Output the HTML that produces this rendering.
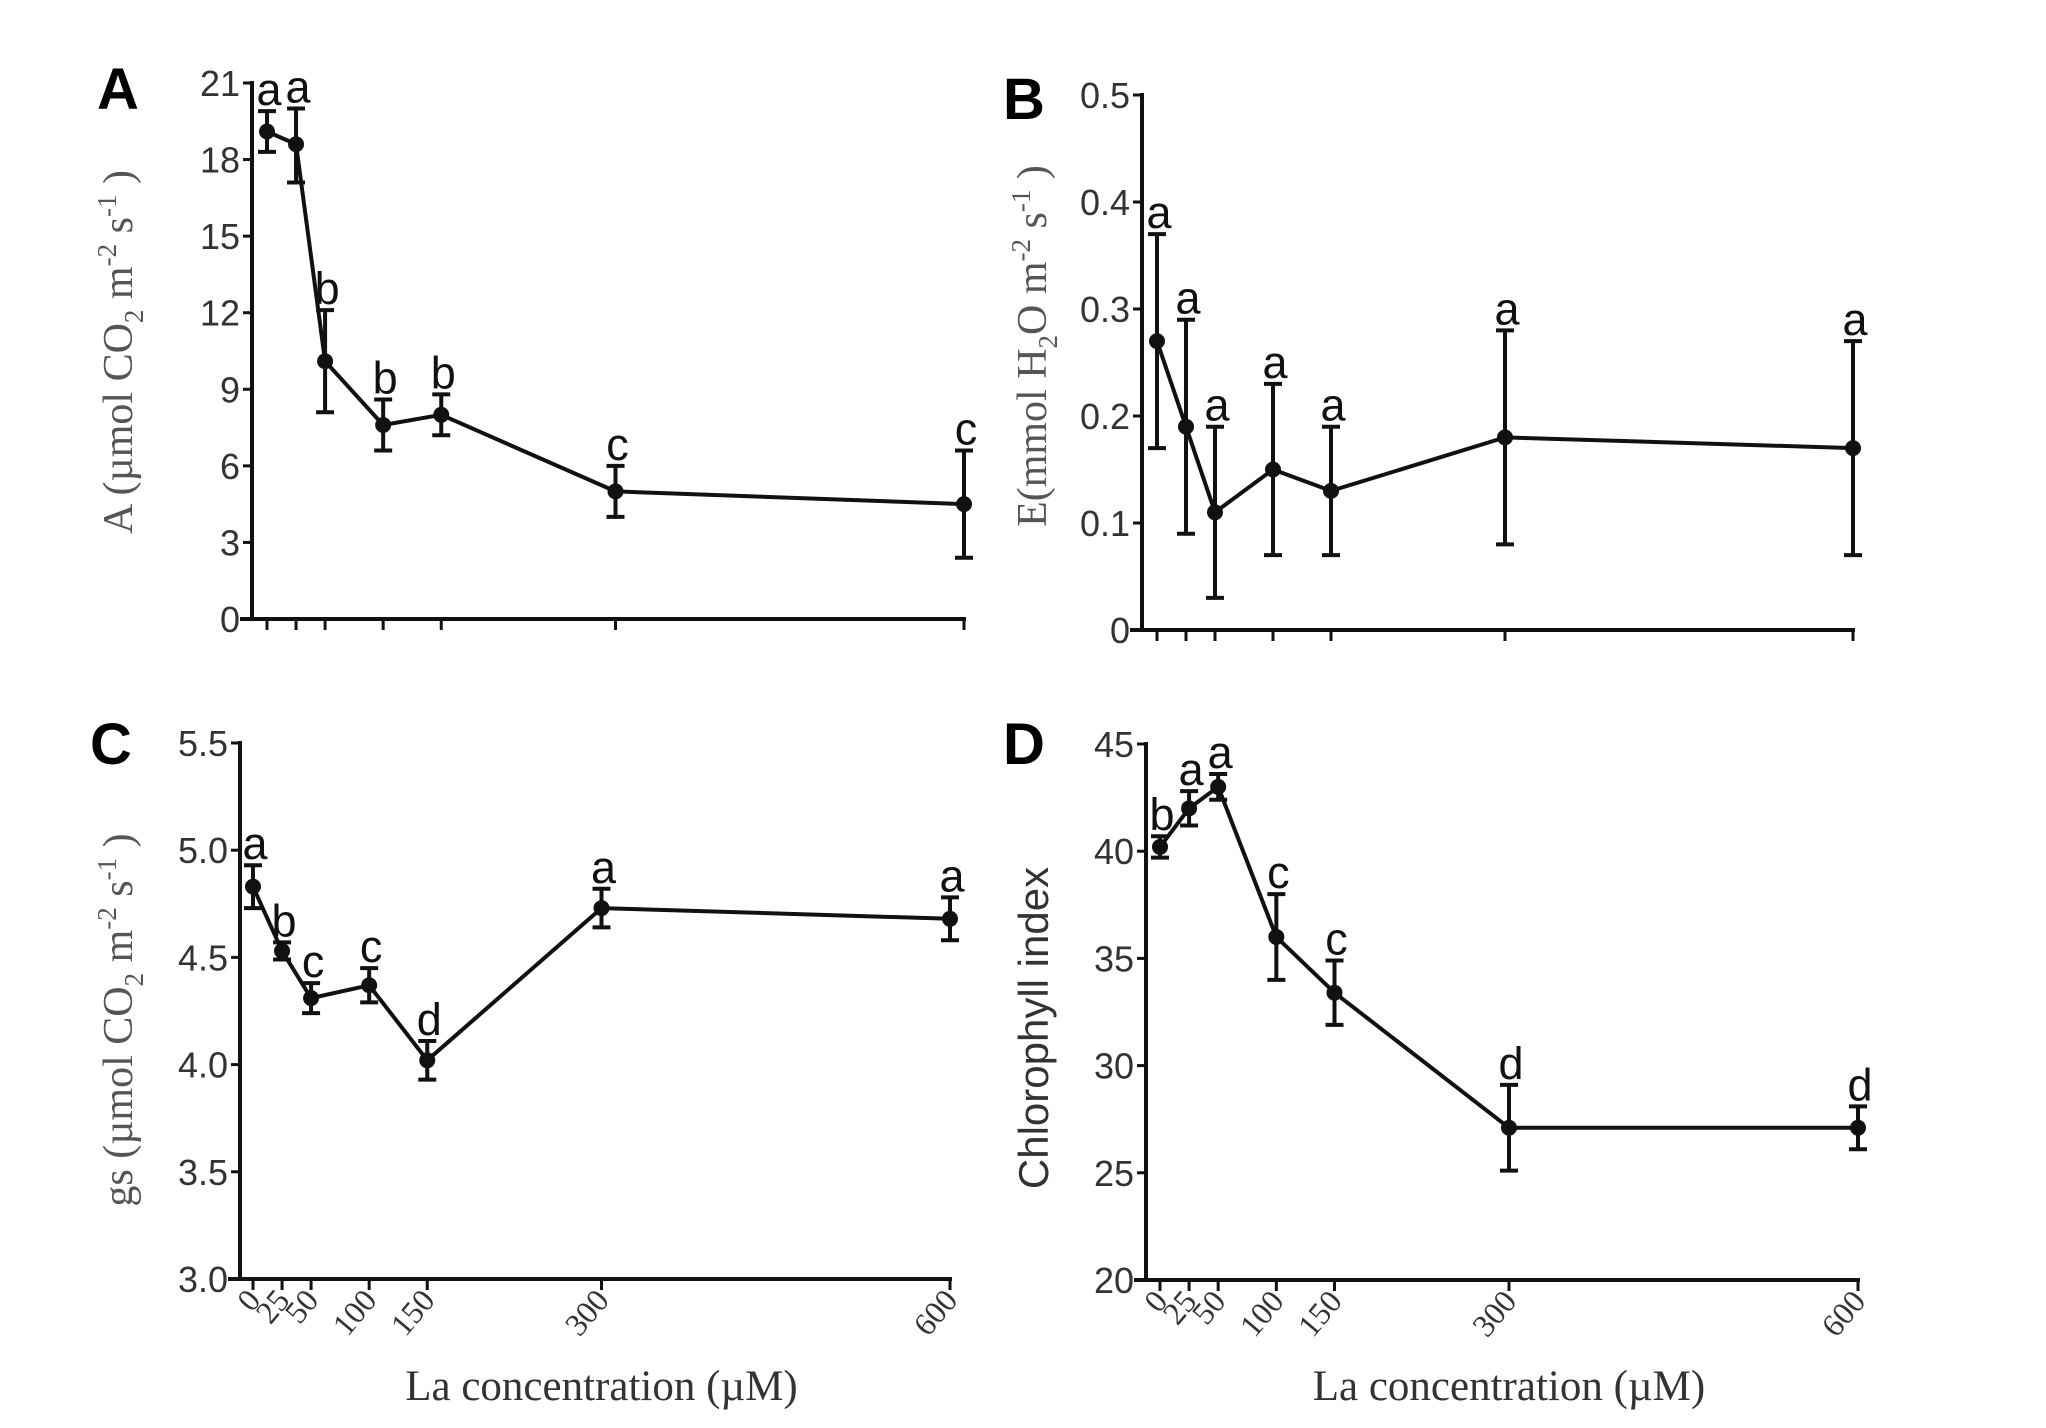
<!DOCTYPE html>
<html><head><meta charset="utf-8"><style>
html,body{margin:0;padding:0;background:#fff}
svg{display:block}
.tick{font-family:"Liberation Sans",sans-serif;font-size:36px;fill:#333}
.xtick{font-family:"Liberation Serif",serif;font-size:32px;fill:#333}
.ytitle{font-family:"Liberation Serif",serif;font-size:42px;fill:#555}
.ctitle{font-family:"Liberation Sans",sans-serif;font-size:42px;fill:#333}
.xtitle{font-family:"Liberation Serif",serif;font-size:43px;fill:#333}
.sig{font-family:"Liberation Sans",sans-serif;font-size:45px;fill:#111}
.plabel{font-family:"Liberation Sans",sans-serif;font-size:58px;font-weight:bold;fill:#000}
</style></head><body>
<svg id="fig" width="2046" height="1428" viewBox="0 0 2046 1428" xmlns="http://www.w3.org/2000/svg">
<rect width="2046" height="1428" fill="#fff"/>
</svg>
<script>
const concentrations = [0, 25, 50, 100, 150, 300, 600];
const xTickLabels = ["0", "25", "50", "100", "150", "300", "600"];

const aValues = [19.1, 18.6, 10.1, 7.6, 8.0, 5.0, 4.5];
const aUpper = [19.9, 20.0, 12.1, 8.6, 8.8, 6.0, 6.6];
const aLower = [18.3, 17.1, 8.1, 6.6, 7.2, 4.0, 2.4];
const aLetters = ["a", "a", "b", "b", "b", "c", "c"];
const aTicks = [0, 3, 6, 9, 12, 15, 18, 21];

const bValues = [0.27, 0.19, 0.11, 0.15, 0.13, 0.18, 0.17];
const bUpper = [0.37, 0.29, 0.19, 0.23, 0.19, 0.28, 0.27];
const bLower = [0.17, 0.09, 0.03, 0.07, 0.07, 0.08, 0.07];
const bLetters = ["a", "a", "a", "a", "a", "a", "a"];
const bTicks = [0, 0.1, 0.2, 0.3, 0.4, 0.5];
const bTickLabels = ["0", "0.1", "0.2", "0.3", "0.4", "0.5"];

const cValues = [4.83, 4.53, 4.31, 4.37, 4.02, 4.73, 4.68];
const cUpper = [4.93, 4.57, 4.38, 4.45, 4.11, 4.82, 4.78];
const cLower = [4.73, 4.49, 4.24, 4.29, 3.93, 4.64, 4.58];
const cLetters = ["a", "b", "c", "c", "d", "a", "a"];
const cTicks = [3.0, 3.5, 4.0, 4.5, 5.0, 5.5];
const cTickLabels = ["3.0", "3.5", "4.0", "4.5", "5.0", "5.5"];

const dValues = [40.2, 42.0, 43.0, 36.0, 33.4, 27.1, 27.1];
const dUpper = [40.7, 42.8, 43.6, 38.0, 34.9, 29.1, 28.1];
const dLower = [39.7, 41.2, 42.4, 34.0, 31.9, 25.1, 26.1];
const dLetters = ["b", "a", "a", "c", "c", "d", "d"];
const dTicks = [20, 25, 30, 35, 40, 45];

const NS = "http://www.w3.org/2000/svg";
const svg = document.getElementById("fig");
function mk(tag, attrs, parent, text) {
  const e = document.createElementNS(NS, tag);
  for (const k in attrs) e.setAttribute(k, attrs[k]);
  if (text !== undefined) e.textContent = text;
  (parent || svg).appendChild(e);
  return e;
}

function drawPanel(p) {
  const g = mk("g", {});
  
  
  const xs = v => p.x0 + (v - 0) / 600 * (p.x600 - p.x0);
  const ys = v => p.yBot + (v - p.yMin) / (p.yMax - p.yMin) * (p.yTop - p.yBot);
  const col = "#111";
  const pl = mk("text", {x: p.lx, y: p.ly, class: "plabel"}, g, p.id);
  
  
  const ya = mk("line", {x1: p.ax, y1: ys(p.yMax) - 2, x2: p.ax, y2: ys(p.yMin) + 2, stroke: col, "stroke-width": 4}, g);
  
  
  p.yTicks.forEach((t, i) => {
    const y = ys(t);
    const tk = mk("line", {x1: p.ax - 9, y1: y, x2: p.ax, y2: y, stroke: col, "stroke-width": 3}, g);
    
    
    const lb = mk("text", {x: p.ax - 12, y: y + 13, "text-anchor": "end", class: "tick"}, g, p.yTickLabels ? p.yTickLabels[i] : String(t));
    
    
  });
  const xa = mk("line", {x1: p.ax - 12, y1: ys(p.yMin), x2: xs(600) + 2, y2: ys(p.yMin), stroke: col, "stroke-width": 4}, g);
  
  
  concentrations.forEach((c, i) => {
    const x = xs(c), y0 = ys(p.yMin);
    const tk = mk("line", {x1: x, y1: y0, x2: x, y2: y0 + 11, stroke: col, "stroke-width": 3}, g);
    
    
    if (p.showX) {
      const lb = mk("text", {x: x + 9, y: y0 + 22, "text-anchor": "end", class: "xtick", transform: `rotate(-50 ${x + 9} ${y0 + 22})`}, g, xTickLabels[i]);
      
      
    }
  });
  if (p.showX) {
    const xt = mk("text", {x: (xs(0) + xs(600)) / 2, y: 1400, "text-anchor": "middle", class: "xtitle"}, g, "La concentration (\u00b5M)");
    
    
  }
  const yt = mk("text", {x: 0, y: 0, "text-anchor": "middle", class: p.titleClass || "ytitle", transform: `translate(${p.tx} ${p.ty}) rotate(-90)`}, g);
  
  
  p.title(yt);
  const pts = p.values.map((v, i) => xs(concentrations[i]) + "," + ys(v)).join(" ");
  const ln = mk("polyline", {points: pts, fill: "none", stroke: col, "stroke-width": 4, "stroke-linejoin": "round"}, g);
  
  
  p.values.forEach((v, i) => {
    const x = xs(concentrations[i]);
    const yu = ys(p.upper[i]), yl = ys(p.lower[i]);
    const eb = mk("path", {d: `M${x},${yu}V${yl}M${x - 9},${yu}H${x + 9}M${x - 9},${yl}H${x + 9}`, stroke: col, "stroke-width": 4, fill: "none"}, g);
    
    
    const pt = mk("circle", {cx: x, cy: ys(v), r: 8, fill: col}, g);
    
    
    const lt = mk("text", {x: x + 2, y: yu - 6, "text-anchor": "middle", class: "sig"}, g, p.letters[i]);
    
    
  });
}

function unitTitle(prefix, mol) {
  return function (t) {
    t.textContent = "";
    const add = (s, dy, small) => { const ts = mk("tspan", {dy: dy}, t, s); if (small) ts.setAttribute("font-size", "27"); };
    add(prefix, 0);
    add("2", 11, true);
    add(mol, -11);
    add("-2", -16, true);
    add(" s", 16);
    add("-1", -16, true);
    add(" )", 16);
  };
}

drawPanel({id: "A", values: aValues, upper: aUpper, lower: aLower, letters: aLetters, yTicks: aTicks,
  yMin: 0, yMax: 21, yTop: 83, yBot: 619, ax: 252, x0: 267, x600: 964, lx: 97, ly: 109, showX: false,
  tx: 132, ty: 352, title: unitTitle("A (\u00b5mol CO", " m")});
drawPanel({id: "B", values: bValues, upper: bUpper, lower: bLower, letters: bLetters, yTicks: bTicks, yTickLabels: bTickLabels,
  yMin: 0, yMax: 0.5, yTop: 95, yBot: 630, ax: 1142, x0: 1157, x600: 1853, lx: 1003, ly: 119, showX: false,
  tx: 1046, ty: 346, title: unitTitle("E(mmol H", "O m")});
drawPanel({id: "C", values: cValues, upper: cUpper, lower: cLower, letters: cLetters, yTicks: cTicks, yTickLabels: cTickLabels,
  yMin: 3.0, yMax: 5.5, yTop: 743, yBot: 1279, ax: 240, x0: 253, x600: 950, lx: 90, ly: 764, showX: true,
  tx: 132, ty: 1020, title: unitTitle("gs (\u00b5mol CO", " m")});
drawPanel({id: "D", values: dValues, upper: dUpper, lower: dLower, letters: dLetters, yTicks: dTicks,
  yMin: 20, yMax: 45, yTop: 744, yBot: 1280, ax: 1146, x0: 1160, x600: 1858, lx: 1003, ly: 764, showX: true,
  tx: 1048, ty: 1028, titleClass: "ctitle", title: t => { t.textContent = "Chlorophyll index"; }});
</script>
</body></html>
